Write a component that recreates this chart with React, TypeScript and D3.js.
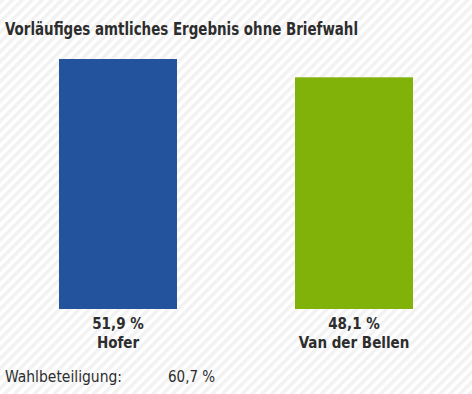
import React from "react";
import * as d3 from "d3";

const candidates = ["Hofer", "Van der Bellen"];
const shares = [51.9, 48.1];
const shareLabels = ["51,9 %", "48,1 %"];
const colors = ["#22539c", "#80b20a"];
const title = "Vorläufiges amtliches Ergebnis ohne Briefwahl";
const turnoutLabel = "Wahlbeteiligung:";
const turnoutValue = "60,7 %";

export default function App() {
  const W = 472, H = 394;
  const x = d3.scaleBand<string>().domain(candidates).range([0, 472]).paddingInner(0.5).paddingOuter(0.25);
  const y = d3.scaleLinear().domain([0, 51.9]).range([309, 59]);
  const font = "'DejaVu Sans Condensed', 'Liberation Sans Narrow', sans-serif";
  return (
    <svg width={W} height={H} style={{ position: "absolute", left: 0, top: 0 }}>
      <defs>
        <pattern id="stripes" width="7" height="7" patternUnits="userSpaceOnUse" patternTransform="rotate(45)">
          <rect width="7" height="7" fill="#ffffff" />
          <rect width="3.5" height="7" fill="#f2f2f2" />
        </pattern>
      </defs>
      <rect width={W} height={H} fill="url(#stripes)" />
      <text x={5} y={35} fontFamily={font} fontWeight="bold" fontSize={17.5} fill="#2d2d2d" textLength={353} lengthAdjust="spacingAndGlyphs">{title}</text>
      {candidates.map((c, i) => {
        const bx = x(c)!;
        const bw = x.bandwidth();
        return (
          <g key={c}>
            <rect x={bx} y={y(shares[i])} width={bw} height={y(0) - y(shares[i])} fill={colors[i]} />
            <text x={bx + bw / 2} y={329} textAnchor="middle" fontFamily={font} fontWeight="bold" fontSize={15} fill="#2d2d2d">{shareLabels[i]}</text>
            <text x={bx + bw / 2} y={348} textAnchor="middle" fontFamily={font} fontWeight="bold" fontSize={15} fill="#2d2d2d">{c}</text>
          </g>
        );
      })}
      <text x={5} y={382} fontFamily={font} fontSize={15} fill="#2d2d2d" textLength={117} lengthAdjust="spacingAndGlyphs">{turnoutLabel}</text>
      <text x={168} y={382} fontFamily={font} fontSize={15} fill="#2d2d2d">{turnoutValue}</text>
    </svg>
  );
}
